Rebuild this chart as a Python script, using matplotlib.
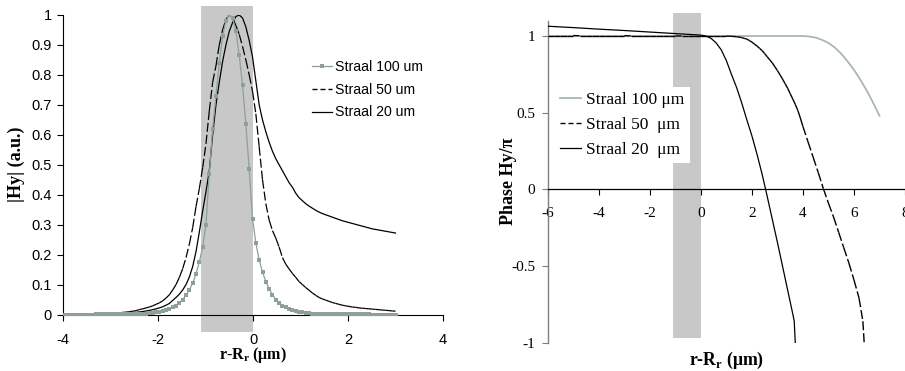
import numpy as np
import matplotlib
matplotlib.use("Agg")
import matplotlib.pyplot as plt
from matplotlib.collections import LineCollection
from matplotlib.lines import Line2D
from matplotlib.ticker import FuncFormatter

plt.rcParams['lines.scale_dashes'] = False
plt.rcParams['mathtext.fontset'] = 'custom'
plt.rcParams['mathtext.rm'] = 'Liberation Serif'
plt.rcParams['mathtext.bf'] = 'Liberation Serif:bold'

# ---------------- data: left panel |Hy| ----------------
x_left = np.round(np.linspace(-4.0, 3.0, 101), 2)

amp_100 = [0.0, 0.0, 0.0, 0.0, 0.0, 0.0, 0.0, 0.0, 0.0, 0.0,
           0.0001, 0.0001, 0.0002, 0.0002, 0.0002, 0.0003, 0.0004, 0.0005, 0.0006, 0.0007,
           0.0009, 0.0012, 0.0015, 0.0020, 0.0025, 0.0032, 0.0041, 0.0053, 0.0068, 0.0087,
           0.011, 0.014, 0.018, 0.024, 0.030, 0.039, 0.050, 0.064, 0.082, 0.105,
           0.135, 0.175, 0.225, 0.30, 0.47, 0.62, 0.73, 0.84, 0.93, 0.98,
           1.00, 0.99, 0.945, 0.865, 0.765, 0.635, 0.485, 0.32, 0.238, 0.183,
           0.141, 0.110, 0.086, 0.066, 0.050, 0.039, 0.030, 0.024, 0.018, 0.014,
           0.011, 0.0087, 0.0068, 0.0053, 0.0041, 0.0032, 0.0025, 0.0020, 0.0015, 0.0012,
           0.0009, 0.0007, 0.0006, 0.0005, 0.0004, 0.0003, 0.0002, 0.0002, 0.0002, 0.0001,
           0.0001, 0.0001, 0.0001, 0.0, 0.0, 0.0, 0.0, 0.0, 0.0, 0.0, 0.0]

amp_50 = [0.0003, 0.0004, 0.0005, 0.0006, 0.0007, 0.0008, 0.0009, 0.0010, 0.0012, 0.0014,
          0.0016, 0.0019, 0.0022, 0.0026, 0.0030, 0.0035, 0.0045, 0.0058, 0.0070, 0.0080,
          0.0095, 0.011, 0.013, 0.0165, 0.019, 0.022, 0.025, 0.029, 0.034, 0.039,
          0.046, 0.055, 0.066, 0.082, 0.100, 0.124, 0.153, 0.19, 0.235, 0.29,
          0.36, 0.42, 0.49, 0.57, 0.68, 0.775, 0.83, 0.90, 0.95, 0.985,
          1.0, 0.99, 0.965, 0.935, 0.895, 0.85, 0.80, 0.745, 0.67, 0.56,
          0.45, 0.37, 0.315, 0.28, 0.255, 0.225, 0.19, 0.168, 0.152, 0.137,
          0.124, 0.110, 0.100, 0.090, 0.081, 0.072, 0.064, 0.057, 0.052, 0.048,
          0.044, 0.040, 0.037, 0.034, 0.031, 0.029, 0.027, 0.025, 0.024, 0.022,
          0.021, 0.020, 0.019, 0.018, 0.017, 0.016, 0.015, 0.014, 0.013, 0.012, 0.011]

amp_20 = [0.0001, 0.0001, 0.0002, 0.0002, 0.0003, 0.0003, 0.0004, 0.0005, 0.0006, 0.0007,
          0.0008, 0.0010, 0.0012, 0.0014, 0.0017, 0.0020, 0.0024, 0.0030, 0.0035, 0.0042,
          0.0050, 0.0060, 0.0072, 0.0086, 0.010, 0.012, 0.014, 0.016, 0.019, 0.022,
          0.026, 0.031, 0.037, 0.047, 0.057, 0.068, 0.082, 0.10, 0.125, 0.16,
          0.21, 0.275, 0.345, 0.41, 0.48, 0.60, 0.70, 0.775, 0.845, 0.90,
          0.945, 0.975, 0.995, 1.0, 0.99, 0.96, 0.915, 0.86, 0.78, 0.70,
          0.65, 0.61, 0.575, 0.545, 0.52, 0.50, 0.48, 0.46, 0.44, 0.425,
          0.405, 0.39, 0.38, 0.37, 0.362, 0.355, 0.348, 0.342, 0.337, 0.333,
          0.329, 0.325, 0.321, 0.317, 0.313, 0.31, 0.307, 0.304, 0.301, 0.298,
          0.295, 0.292, 0.289, 0.286, 0.284, 0.282, 0.280, 0.278, 0.276, 0.274, 0.272]

labels_left = ["Straal 100 um", "Straal 50 um", "Straal 20 um"]

# ---------------- data: right panel phase ----------------
x_ph_100 = [-6.0, -4.0, -2.0, 0.0, 2.0, 4.0, 4.25, 4.5, 4.75, 5.0, 5.25, 5.5, 5.75,
            6.0, 6.25, 6.5, 6.75, 7.0]
ph_100 = [1.0, 1.0, 1.0, 1.0, 1.0, 1.0, 0.997, 0.99, 0.975, 0.955, 0.925, 0.885, 0.835,
          0.78, 0.715, 0.645, 0.565, 0.48]

x_ph_50 = [-6.0, -5.75, -5.5, -5.25, -5.0, -4.75, -4.5, -4.25, -4.0, -3.75, -3.5, -3.25,
           -3.0, -2.75, -2.5, -2.25, -2.0, -1.75, -1.5, -1.25, -1.0, -0.75, -0.5, -0.25,
           0.0, 0.25, 0.5, 0.75, 1.0,
           1.1, 1.2, 1.3, 1.4, 1.5, 1.6, 1.7, 1.8, 1.9, 2.0, 2.1, 2.2, 2.3, 2.4, 2.5,
           2.6, 2.7, 2.8, 2.9, 3.0, 3.1, 3.2, 3.3, 3.4, 3.5, 3.6, 3.7, 3.8, 3.9, 4.0,
           4.2, 4.4, 4.6, 4.8, 5.0, 5.2, 5.4, 5.6, 5.8, 6.0, 6.2, 6.35, 6.40]
ph_50 = [1.003, 1.003, 1.003, 1.003, 1.003, 1.002, 1.002, 1.002, 1.002, 1.002, 1.002, 1.002,
         1.002, 1.001, 1.001, 1.001, 1.001, 1.001, 1.001, 1.001, 1.001, 1.0, 1.0, 1.0,
         1.0, 1.0, 1.0, 1.0, 1.0,
         0.999, 0.998, 0.997, 0.995, 0.993, 0.99, 0.985, 0.98, 0.971, 0.96, 0.948, 0.935,
         0.92, 0.905, 0.886, 0.865, 0.845, 0.825, 0.80, 0.775, 0.748, 0.72, 0.69, 0.66,
         0.625, 0.59, 0.555, 0.515, 0.465, 0.41,
         0.31, 0.21, 0.11, 0.005, -0.09, -0.18, -0.28, -0.38, -0.48, -0.59, -0.71,
         -0.86, -1.0]

x_ph_20 = [-6.0, -5.0, -4.0, -3.0, -2.0, -1.0, 0.0, 0.2, 0.4, 0.6, 0.8, 1.0, 1.2, 1.4,
           1.6, 1.8, 2.0, 2.2, 2.4, 2.6, 2.8, 3.0, 3.2, 3.4, 3.6, 3.66, 3.70]
ph_20 = [1.064, 1.055, 1.045, 1.036, 1.026, 1.016, 1.006, 1.0, 0.985, 0.955, 0.91,
         0.84, 0.75, 0.665, 0.565, 0.455, 0.35, 0.23, 0.10, -0.045, -0.195, -0.345,
         -0.50, -0.655, -0.81, -0.86, -1.0]

labels_right = ["Straal 100 μm", "Straal 50  μm", "Straal 20  μm"]

shade = (-1.1, 0.0)

# ---------------- styles ----------------
GRAY_L = '#8E9F9C'
GRAY_R = '#A8B7B4'
SHADE = '#C8C8C8'
PX = 0.72  # points per pixel at 100 dpi
DASH = (0, (9.0 * PX, 3.0 * PX))
DASH_LEG = (0, (5.0 * PX, 3.0 * PX))
SANS = 'Liberation Sans'
SERIF = 'Liberation Serif'

W, H = 905, 371
fig = plt.figure(figsize=(W / 100, H / 100), dpi=100)


def dashed_segments(ax, xs, ys, lw):
    pts = np.column_stack([xs, ys])
    segs = [pts[i:i + 2] for i in range(len(pts) - 1)]
    lc = LineCollection(segs, colors='black', linewidths=lw, linestyles=[DASH],
                        capstyle='butt', zorder=3)
    ax.add_collection(lc)


# ================= left panel =================
ax1 = fig.add_axes([63 / W, 1 - 314.5 / H, (443 - 63) / W, (314.5 - 15) / H])
ax1.set_xlim(-4, 4)
ax1.set_ylim(0, 1)
ax1.axvspan(shade[0], shade[1], ymin=-0.06, ymax=1.03, color=SHADE, lw=0,
            zorder=0.5, clip_on=False)
ax1.plot(x_left, amp_100, color=GRAY_L, lw=0.9, marker='s', ms=2.6, mew=0, zorder=4)
dashed_segments(ax1, x_left, amp_50, 0.9)
ax1.plot(x_left, amp_20, color='black', lw=0.9, zorder=3)

for s in ['top', 'right']:
    ax1.spines[s].set_visible(False)
for s in ['left', 'bottom']:
    ax1.spines[s].set_linewidth(0.8)
ax1.set_xticks([-4, -2, 0, 2, 4])
ax1.set_yticks(np.round(np.arange(0, 1.01, 0.1), 1))
ax1.yaxis.set_major_formatter(FuncFormatter(lambda v, p: f"{v:g}"))
ax1.xaxis.set_major_formatter(FuncFormatter(lambda v, p: f"{v:g}"))
ax1.tick_params(axis='both', direction='out', length=4, width=0.8, labelsize=10.5)
ax1.tick_params(axis='x', pad=9)
ax1.tick_params(axis='y', pad=4)
for t in ax1.get_xticklabels() + ax1.get_yticklabels():
    t.set_fontfamily(SANS)

ax1.set_xlabel(r'r-R$_\mathbf{r}$ (μm)', fontfamily=SERIF, fontweight='bold',
               fontsize=11.5)
ax1.xaxis.set_label_coords(0.5, -0.103)
ax1.set_ylabel('|Hy| (a.u.)', fontfamily=SERIF, fontweight='bold', fontsize=13)
ax1.yaxis.set_label_coords(-0.10, 0.5)

h1 = [Line2D([], [], color=GRAY_L, lw=0.9, marker='s', ms=2.6, mew=0),
      Line2D([], [], color='black', lw=1.0, linestyle=DASH_LEG),
      Line2D([], [], color='black', lw=0.9)]
leg1 = ax1.legend(h1, labels_left, loc='upper left', bbox_to_anchor=(0.655, 0.85),
                  frameon=False, borderpad=0, borderaxespad=0, handlelength=1.4,
                  handletextpad=0.2, labelspacing=0.62,
                  prop={'family': SANS, 'size': 10.2})

# ================= right panel =================
ax2 = fig.add_axes([547.7 / W, 1 - 342.7 / H, (W - 547.7) / W, (342.7 - 20.7) / H])
ax2.set_xlim(-6, 8)
ax2.set_ylim(-1, 1.1)
ax2.axvspan(shade[0], shade[1], ymin=(-0.967 + 1) / 2.1, ymax=(1.153 + 1) / 2.1,
            color=SHADE, lw=0, zorder=0.5, clip_on=False)
ax2.plot(x_ph_100, ph_100, color=GRAY_R, lw=1.3, zorder=2)
dashed_segments(ax2, x_ph_50, ph_50, 1.0)
ax2.plot(x_ph_20, ph_20, color='black', lw=0.9, zorder=3)

for s in ['top', 'right']:
    ax2.spines[s].set_visible(False)
ax2.spines['bottom'].set_position(('data', 0))
ax2.spines['bottom'].set_linewidth(0.9)
ax2.spines['left'].set_color('#7F7F7F')
ax2.spines['left'].set_linewidth(1.0)
ax2.set_xticks(np.arange(-6, 9, 2))
ax2.set_yticks([-1, -0.5, 0, 0.5, 1])
ax2.yaxis.set_major_formatter(FuncFormatter(lambda v, p: f"{v:g}"))
ax2.xaxis.set_major_formatter(FuncFormatter(lambda v, p: f"{v:g}"))
ax2.tick_params(axis='both', direction='out', length=4, width=0.8, labelsize=11)
ax2.tick_params(axis='x', pad=9)
ax2.tick_params(axis='y', pad=5, color='#7F7F7F')
for t in ax2.get_xticklabels() + ax2.get_yticklabels():
    t.set_fontfamily(SERIF)

ax2.set_xlabel(r'r-R$_\mathbf{r}$ (μm)', fontfamily=SERIF, fontweight='bold',
               fontsize=12.8)
ax2.xaxis.set_label_coords(0.5, -0.022)
ax2.set_ylabel('Phase Hy/π', fontfamily=SERIF, fontweight='bold', fontsize=13)
ax2.yaxis.set_label_coords(-0.086, 0.5)

h2 = [Line2D([], [], color=GRAY_R, lw=1.3),
      Line2D([], [], color='black', lw=1.0, linestyle=DASH_LEG),
      Line2D([], [], color='black', lw=0.9)]
leg2 = ax2.legend(h2, labels_right, loc='upper left', bbox_to_anchor=(0.02, 0.794),
                  frameon=True, facecolor='white', edgecolor='none', framealpha=1,
                  fancybox=False, borderpad=0.3, borderaxespad=0, handlelength=1.2,
                  handletextpad=0.3, labelspacing=0.49,
                  prop={'family': SERIF, 'size': 12.5})
leg2.set_zorder(5)

fig.savefig('out.png', dpi=100)
